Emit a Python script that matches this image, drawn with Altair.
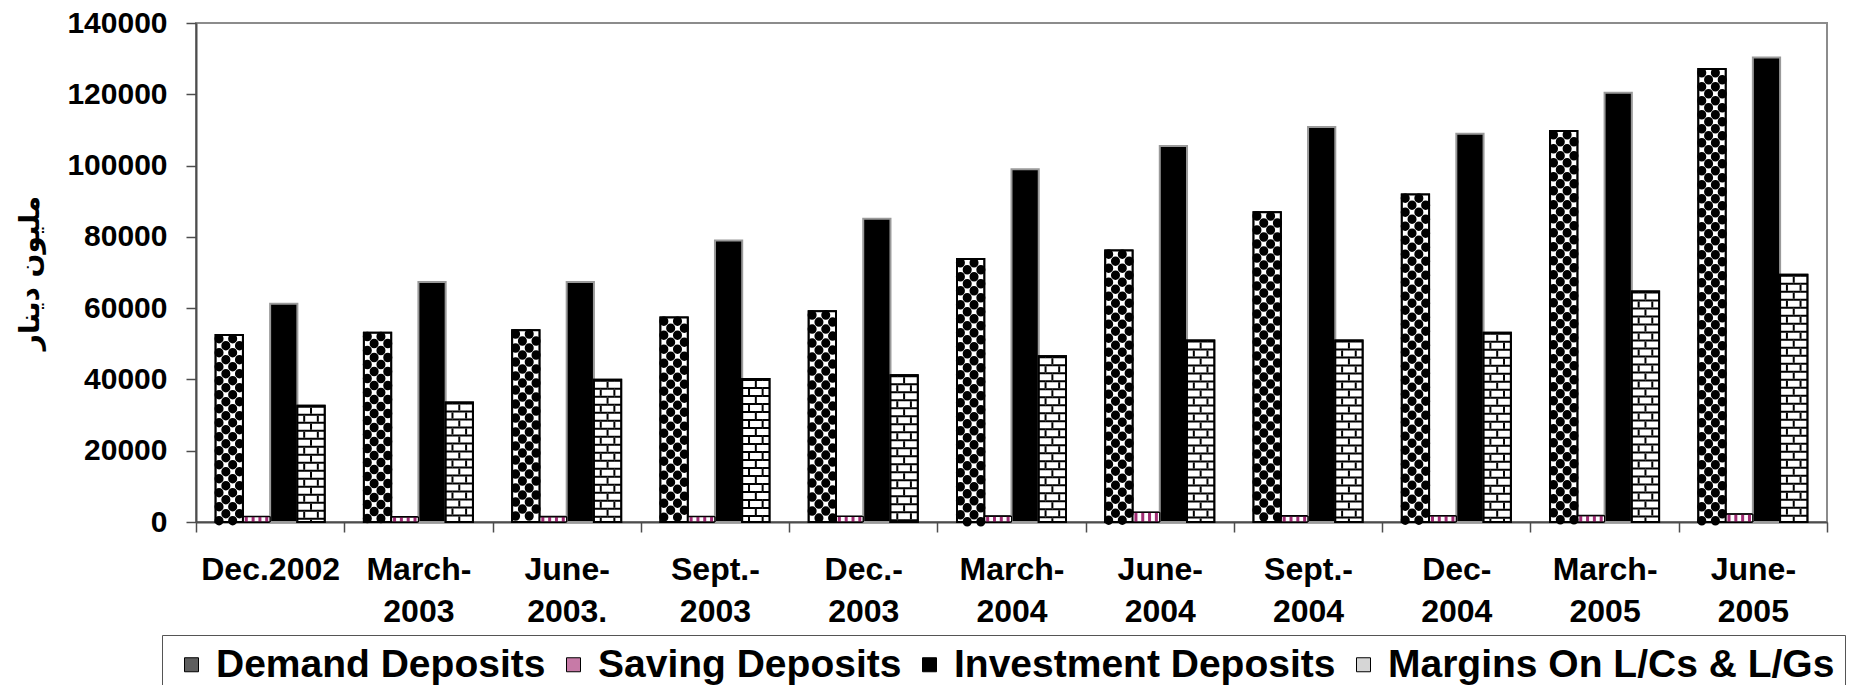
import math
import altair as alt
import pandas as pd

periods = ["Dec.2002", "March-2003", "June-2003.", "Sept.-2003", "Dec.-2003", "March-2004",
           "June-2004", "Sept.-2004", "Dec-2004", "March-2005", "June-2005"]
series = ["Demand Deposits", "Saving Deposits", "Investment Deposits", "Margins On L/Cs & L/Gs"]

demand = [52500, 53100, 53800, 57400, 59100, 73800, 76200, 86900, 91900, 109700, 127100]
saving = [1500, 1400, 1450, 1500, 1550, 1600, 2700, 1650, 1700, 1750, 2200]
investment = [61200, 67300, 67300, 79000, 85100, 99000, 105500, 110800, 108900, 120400, 130300]
margins = [32600, 33500, 39900, 40100, 41200, 46500, 50900, 50900, 53100, 64700, 69400]

y_ticks = [0, 20000, 40000, 60000, 80000, 100000, 120000, 140000]
y_title = "مليون دينار"

legend_fill = ["#5e5e5e", "#c77aa7", "#000000", "#d6d6d6"]

rows = []
for s, vals in zip(series, [demand, saving, investment, margins]):
    for p, v in zip(periods, vals):
        rows.append({"period": p, "series": s, "value": v})
df = pd.DataFrame(rows)

W, H = 1631, 499
band = W / len(periods)
bar_w = 27.25
frac = 4 * bar_w / band


def padded(domain):
    k = len(domain)
    p = (k / frac - k) / 2
    n = int(math.floor(p))
    rem = p - n
    dom = ["_l%d" % i for i in range(n)] + list(domain) + ["_r%d" % i for i in range(n)]
    return dom, rem


codes = ["D", "S", "I", "M"]
slots16 = [c + str(i) for c in codes for i in range(1, 5)]
slots8 = [c + h for c in codes for h in ["L", "R"]]

label_expr = ("indexof(datum.label,'-')>0 ? [slice(datum.label,0,indexof(datum.label,'-')+1),"
              " slice(datum.label,indexof(datum.label,'-')+1)] : datum.label")

x_enc = alt.X("period:N", sort=periods,
              scale=alt.Scale(paddingInner=0, paddingOuter=0),
              axis=alt.Axis(title=None, labelAngle=0, tickBand="extent", labelPadding=22,
                            labelBaseline="top", labelLineHeight=42, labelExpr=label_expr,
                            labelFontSize=32))
y_enc = alt.Y("value:Q", scale=alt.Scale(domain=[0, 140000], nice=False),
              axis=alt.Axis(title=y_title, values=y_ticks, format="d", labelPadding=19,
                            titleAngle=270, titleX=-166, titleY=249.5, titleAlign="center",
                            titleBaseline="middle", titleFontSize=28, titleFontWeight="bold",
                            titleFont="DejaVu Sans", titleColor="black"))
y2_enc = alt.datum(0)


def off_series():
    dom, rem = padded(series)
    return alt.XOffset("series:N",
                       scale=alt.Scale(domain=dom, paddingInner=0, paddingOuter=rem))


def off_slot(domain):
    dom, rem = padded(domain)
    return alt.XOffset("slot:N", scale=alt.Scale(domain=dom, paddingInner=0, paddingOuter=rem))


base = alt.Chart(df)

bars = base.mark_bar(strokeWidth=2).encode(
    x=x_enc, y=y_enc, xOffset=off_series(),
    color=alt.Color("series:N", sort=series,
                    scale=alt.Scale(domain=series, range=legend_fill),
                    legend=alt.Legend(title=None, orient="none", legendX=-34, legendY=612,
                                      direction="horizontal", columns=4, strokeColor="#555555",
                                      padding=10, symbolType="square", symbolSize=196,
                                      symbolStrokeColor="black", symbolStrokeWidth=1,
                                      labelFontSize=39, labelFont="Liberation Sans",
                                      labelFontWeight="bold", labelColor="black",
                                      labelOffset=5, columnPadding=8, labelLimit=700)),
    stroke=alt.condition("datum.series == 'Investment Deposits'",
                         alt.value("#9a9a9a"), alt.value("black")),
)

white = base.transform_filter("datum.series != 'Investment Deposits'").mark_bar(
    fill="white", stroke="black", strokeWidth=1).encode(
    x=x_enc, y=y_enc, xOffset=off_series())


def slot_layer(code, names, mark_kwargs, domain):
    calc = {"s%d" % i: "'%s'" % n for i, n in enumerate(names)}
    return (base.transform_filter("datum.series == '%s'" % code)
            .transform_calculate(**calc)
            .transform_fold(list(calc.keys()), as_=["k", "slot"])
            .mark_rule(**mark_kwargs)
            .encode(x=x_enc, y=y_enc, y2=y2_enc, xOffset=off_slot(domain)))


dotsA = slot_layer("Demand Deposits", ["D1", "D3"],
                   dict(color="black", strokeWidth=9, strokeCap="round",
                        strokeDash=[0.5, 13.5], strokeDashOffset=10.5), slots16)
dotsB = slot_layer("Demand Deposits", ["D2", "D4"],
                   dict(color="black", strokeWidth=9, strokeCap="round",
                        strokeDash=[0.5, 13.5], strokeDashOffset=3.5), slots16)
stripes = slot_layer("Saving Deposits", ["S1", "S2", "S3", "S4"],
                     dict(color="#a02c74", strokeWidth=3), slots16)
brickH = slot_layer("Margins On L/Cs & L/Gs", ["M1", "M2", "M3", "M4"],
                    dict(color="black", strokeWidth=7, strokeDash=[2, 6]), slots16)
brickA = (base.transform_filter("datum.series == 'Margins On L/Cs & L/Gs'")
          .mark_rule(color="black", strokeWidth=2, strokeDash=[6, 10], strokeDashOffset=14)
          .encode(x=x_enc, y=y_enc, y2=y2_enc, xOffset=off_series()))
brickB = slot_layer("Margins On L/Cs & L/Gs", ["ML", "MR"],
                    dict(color="black", strokeWidth=2, strokeDash=[6, 10], strokeDashOffset=6),
                    slots8)

outline = base.transform_filter("datum.series != 'Investment Deposits'").mark_bar(
    fillOpacity=0).encode(
    x=x_enc, y=y_enc, xOffset=off_series(),
    stroke=alt.value("black"),
    strokeWidth=alt.condition("datum.series == 'Saving Deposits'", alt.value(1), alt.value(2)))

chart = alt.layer(bars, white, dotsA, dotsB, stripes, brickH, brickA, brickB, outline).resolve_scale(
    xOffset="independent"
).properties(
    width=W, height=H,
    autosize=alt.AutoSizeParams(type="none"),
    padding={"left": 188, "top": 15, "right": 20, "bottom": 163},
).configure_view(stroke="#8c8c8c", strokeWidth=2).configure_axis(
    domainColor="#4d4d4d", domainWidth=2, tickColor="#4d4d4d", tickWidth=1.5, tickSize=10,
    grid=False, labelFont="Liberation Sans", labelFontWeight="bold", labelFontSize=30,
    labelColor="black")

chart.save("out.html", embed_options={"renderer": "svg", "actions": False})
